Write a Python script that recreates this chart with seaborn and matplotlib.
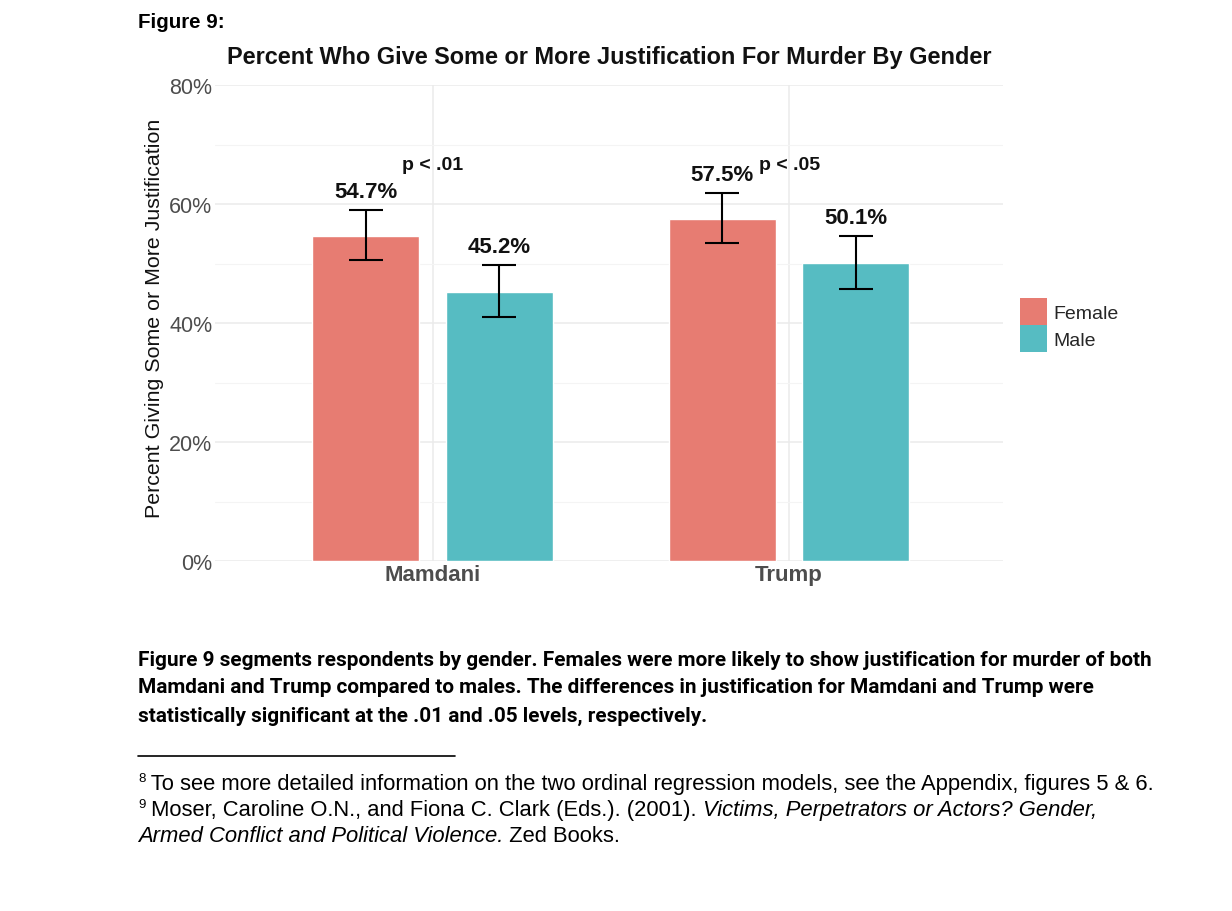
import matplotlib
matplotlib.use("Agg")
import matplotlib.pyplot as plt
import matplotlib.patches as mpatches
import seaborn as sns
import pandas as pd
from matplotlib.ticker import FuncFormatter, MultipleLocator

# ---- data ----
candidates = ["Mamdani", "Trump"]
genders = ["Female", "Male"]
female_pct = [54.7, 57.5]
male_pct = [45.2, 50.1]
female_lo = [50.6, 53.4]
female_hi = [59.0, 61.8]
male_lo = [41.0, 45.7]
male_hi = [49.7, 54.6]
p_labels = ["p < .01", "p < .05"]
y_ticks = [0, 20, 40, 60, 80]

df = pd.DataFrame({
    "candidate": candidates * 2,
    "gender": ["Female"] * 2 + ["Male"] * 2,
    "pct": female_pct + male_pct,
    "lo": female_lo + male_lo,
    "hi": female_hi + male_hi,
})

sns.set_style("white")
plt.rcParams["font.family"] = ["Liberation Sans", "DejaVu Sans"]

W, H = 1232, 912
fig = plt.figure(figsize=(W / 100, H / 100), dpi=100)
ax = fig.add_axes([215 / W, 1 - 562 / H, (1003 - 215) / W, (562 - 86) / H])

palette = {"Female": "#E77C72", "Male": "#56BCC2"}
sns.barplot(data=df, x="candidate", y="pct", hue="gender", order=candidates,
            hue_order=genders, palette=palette, width=0.75, gap=0.2,
            errorbar=None, ax=ax, saturation=1, legend=False)

# error bars and value labels
for cont, g in zip(ax.containers, genders):
    sub = df[df.gender == g].set_index("candidate").loc[candidates]
    for bar, (_, row) in zip(cont, sub.iterrows()):
        cx = bar.get_x() + bar.get_width() / 2
        ax.errorbar([cx], [row.pct], yerr=[[row.pct - row.lo], [row.hi - row.pct]],
                    fmt="none", ecolor="black", elinewidth=1.5, capsize=12.5,
                    capthick=1.5, zorder=5)
        ax.annotate(f"{row.pct:.1f}%", (cx, row.hi), xytext=(0, 9.5),
                    textcoords="offset points", ha="center", va="baseline",
                    fontsize=16, fontweight="bold", color="#111111")

for i, lab in enumerate(p_labels):
    ax.text(i, 66.7, lab, ha="center", va="center", fontsize=14,
            fontweight="bold", color="#111111")

ax.set_xlim(-0.61, 1.6)
ax.set_ylim(0, 80)
ax.set_yticks(y_ticks)
ax.yaxis.set_minor_locator(MultipleLocator(10))
ax.yaxis.set_major_formatter(FuncFormatter(lambda v, p: f"{v:.0f}%"))
ax.grid(axis="y", which="major", color="#EBEBEB", linewidth=1.1, zorder=0)
ax.grid(axis="y", which="minor", color="#F4F4F4", linewidth=0.8, zorder=0)
ax.grid(axis="x", which="major", color="#EBEBEB", linewidth=1.1, zorder=0)
ax.set_axisbelow(True)
for s in ax.spines.values():
    s.set_visible(False)
ax.tick_params(axis="y", labelsize=15.5, labelcolor="#4D4D4D", length=0, pad=2)
ax.tick_params(axis="x", labelsize=16, labelcolor="#4D4D4D", length=0, pad=2)
for t in ax.get_xticklabels():
    t.set_fontweight("bold")
ax.set_xlabel("")
ax.set_ylabel("Percent Giving Some or More Justification", fontsize=15.4,
              color="#111111", va="center")
ax.yaxis.set_label_coords((155 - 215) / (1003 - 215), (562 - 318) / (562 - 86))
ax.set_title("Percent Who Give Some or More Justification For Murder By Gender",
             fontsize=16.9, fontweight="bold", color="#111111", pad=16)

handles = [mpatches.Patch(facecolor=palette[g], edgecolor="none", label=g) for g in genders]
ax.legend(handles=handles, loc="upper left",
          bbox_to_anchor=(1020 / W, 1 - 299 / H), bbox_transform=fig.transFigure,
          frameon=False, fontsize=14, handlelength=1.4, handleheight=1.77,
          labelspacing=0.0, handletextpad=0.3, borderpad=0, borderaxespad=0)

# ---- surrounding document text ----
fig.text(138 / W, 1 - 23 / H, "Figure 9:", fontsize=14.8, fontweight="bold",
         ha="left", va="center", color="black")

cap_lines = [
    "Figure 9 segments respondents by gender. Females were more likely to show justification for murder of both",
    "Mamdani and Trump compared to males. The differences in justification for Mamdani and Trump were",
    "statistically significant at the .01 and .05 levels, respectively.",
]
for i, line in enumerate(cap_lines):
    fig.text(138 / W, 1 - (660 + 28 * i) / H, line, fontsize=14.95, fontweight="bold",
             family=["Roboto", "DejaVu Sans"],
             ha="left", va="center", color="black")

fig.add_artist(plt.Line2D([138 / W, 455 / W], [1 - 757 / H, 1 - 757 / H],
                          transform=fig.transFigure, color="black", linewidth=1.2))

renderer = fig.canvas.get_renderer()


def put_runs(x_px, y_px, runs):
    x = x_px
    for txt, style, size, dy in runs:
        t = fig.text(x / W, 1 - (y_px + dy) / H, txt, fontsize=size, style=style,
                     ha="left", va="baseline", color="black")
        bb = t.get_window_extent(renderer=renderer)
        x += bb.width


FS = 15.85
put_runs(138, 790, [("8", "normal", 9.5, -8), (" To see more detailed information on the two ordinal regression models, see the Appendix, figures 5 & 6.", "normal", FS, 0)])
put_runs(138, 816, [("9", "normal", 9.5, -8), (" Moser, Caroline O.N., and Fiona C. Clark (Eds.). (2001). ", "normal", FS, 0),
                    ("Victims, Perpetrators or Actors? Gender,", "italic", FS, 0)])
put_runs(138, 842, [("Armed Conflict and Political Violence.", "italic", FS, 0), (" Zed Books.", "normal", FS, 0)])

fig.savefig("out.png", dpi=100, facecolor="white")
